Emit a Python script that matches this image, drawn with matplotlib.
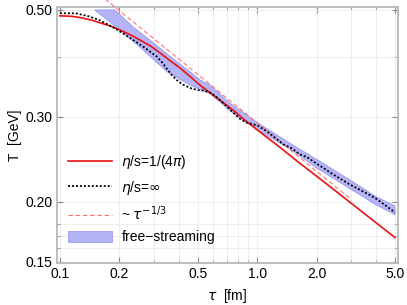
import matplotlib
matplotlib.use("Agg")
import matplotlib.pyplot as plt
import numpy as np
from matplotlib.ticker import FixedLocator, NullFormatter

plt.rcParams["font.family"] = ["Liberation Sans", "DejaVu Sans"]
plt.rcParams["mathtext.fontset"] = "dejavusans"

# eta/s = 1/(4 pi) hydro
tau_visc = [0.10, 0.115, 0.13, 0.145, 0.16, 0.18, 0.20, 0.225, 0.255, 0.29, 0.322, 0.36, 0.406, 0.46, 0.513,
            0.58, 0.647, 0.754, 0.87, 1.0, 1.31, 1.6, 2.0, 2.5, 3.0, 4.0, 5.0]
T_visc = [0.486, 0.485, 0.481, 0.476, 0.470, 0.463, 0.455, 0.445, 0.433, 0.420, 0.407, 0.393, 0.379, 0.363, 0.349,
          0.336, 0.325, 0.310, 0.295, 0.282, 0.259, 0.2425, 0.226, 0.2105, 0.1985, 0.181, 0.1685]

# eta/s = infinity
tau_inf = [0.10, 0.12, 0.14, 0.159, 0.19, 0.22, 0.246, 0.27, 0.29, 0.31, 0.33, 0.349, 0.37, 0.39, 0.42,
           0.46, 0.50, 0.54, 0.577, 0.62, 0.67, 0.75, 0.82, 0.88, 0.94, 1.0, 1.12, 1.24, 1.36, 1.5, 1.64,
           1.8, 2.0, 2.2, 2.42, 2.7, 2.96, 3.3, 3.6, 4.0, 4.36, 5.0]
T_inf = [0.492, 0.492, 0.485, 0.476, 0.458, 0.441, 0.428, 0.417, 0.408, 0.400, 0.389, 0.377, 0.366, 0.358,
         0.350, 0.344, 0.341, 0.340, 0.337, 0.330, 0.321, 0.307, 0.297, 0.292, 0.290, 0.288, 0.280, 0.271,
         0.263, 0.258, 0.251, 0.247, 0.240, 0.234, 0.228, 0.222, 0.217, 0.212, 0.208, 0.203, 0.198, 0.190]

# ~ tau^(-1/3)
tau_bj = [0.16, 3.0]
bj_norm = 0.2915

# free-streaming band
tau_band_lo = [0.15, 0.20, 0.264, 0.349, 0.457, 0.577, 0.75, 1.0, 1.5, 2.0, 3.0, 4.0, 5.0]
T_band_lo = [0.500, 0.455, 0.413, 0.372, 0.349, 0.335, 0.306, 0.282, 0.256, 0.235, 0.212, 0.197, 0.188]
tau_band_hi = [0.15, 0.19, 0.235, 0.286, 0.349, 0.457, 0.513, 0.577, 0.73, 1.0, 1.5, 2.0, 3.0, 4.0, 5.0]
T_band_hi = [0.500, 0.500, 0.461, 0.433, 0.405, 0.372, 0.358, 0.349, 0.320, 0.292, 0.263, 0.245, 0.221, 0.205, 0.196]

x_major = [0.1, 0.2, 0.5, 1.0, 2.0, 5.0]
x_labels = ["0.1", "0.2", "0.5", "1.0", "2.0", "5.0"]
x_minor = [0.3, 0.4, 0.6, 0.7, 0.8, 0.9, 3.0, 4.0]
y_major = [0.15, 0.20, 0.30, 0.50]
y_labels = ["0.15", "0.20", "0.30", "0.50"]
y_minor = [0.16, 0.17, 0.18, 0.40]

fig = plt.figure(figsize=(4.07, 3.05), dpi=100)
ax = fig.add_axes([0.140, 0.138, 0.838, 0.839])
ax.set_xscale("log")
ax.set_yscale("log")

band_x = list(tau_band_lo) + list(tau_band_hi[::-1])
band_y = list(T_band_lo) + list(T_band_hi[::-1])
ax.fill(band_x, band_y, facecolor="#b4b4f6", edgecolor="#9090f0", linewidth=0.5, zorder=2,
        label="free\u2212streaming")

tb = np.geomspace(tau_bj[0], tau_bj[1], 50)
ax.plot(tb, bj_norm * tb ** (-1 / 3), color="#ff7070", linewidth=0.8, dashes=(4, 2.5),
        zorder=3, clip_on=False, label=r"~ $\tau^{-1/3}$")
ax.plot(tau_visc, T_visc, color="#ee1111", linewidth=1.2, zorder=4, label=r"$\eta$/s=1/(4$\pi$)")
ax.plot(tau_inf, T_inf, color="black", linewidth=1.3, dashes=(1.1, 1.1), zorder=5,
        label=r"$\eta$/s=$\infty$")

ax.set_xlim(0.0966, 5.18)
ax.set_ylim(0.1493, 0.507)

ax.xaxis.set_major_locator(FixedLocator(x_major))
ax.set_xticklabels(x_labels)
ax.xaxis.set_minor_locator(FixedLocator(x_minor))
ax.xaxis.set_minor_formatter(NullFormatter())
ax.yaxis.set_major_locator(FixedLocator(y_major))
ax.set_yticklabels(y_labels)
ax.yaxis.set_minor_locator(FixedLocator(y_minor))
ax.yaxis.set_minor_formatter(NullFormatter())

ax.tick_params(which="both", direction="in", top=True, right=True, color="#888888",
               labelsize=10, pad=3)
ax.tick_params(which="major", length=4, width=0.8)
ax.tick_params(which="minor", length=2, width=0.6)
ax.grid(which="both", color="#eeeeee", linewidth=0.8)
ax.set_axisbelow(True)
for spine in ax.spines.values():
    spine.set_color("#b8b8b8")
    spine.set_linewidth(1.3)

ax.set_xlabel(r"$\tau$  [fm]", fontsize=10, labelpad=4)
ax.set_ylabel("T  [GeV]", fontsize=10, labelpad=3)

handles, labels = ax.get_legend_handles_labels()
order = [2, 3, 1, 0]
ax.legend([handles[i] for i in order], [labels[i] for i in order], loc="upper left",
          bbox_to_anchor=(0.032, 0.43), frameon=False, fontsize=10, handlelength=3.2,
          handleheight=0.8, labelspacing=0.55, handletextpad=0.65, borderpad=0,
          borderaxespad=0)

fig.savefig("out.png", dpi=100, facecolor="white")
